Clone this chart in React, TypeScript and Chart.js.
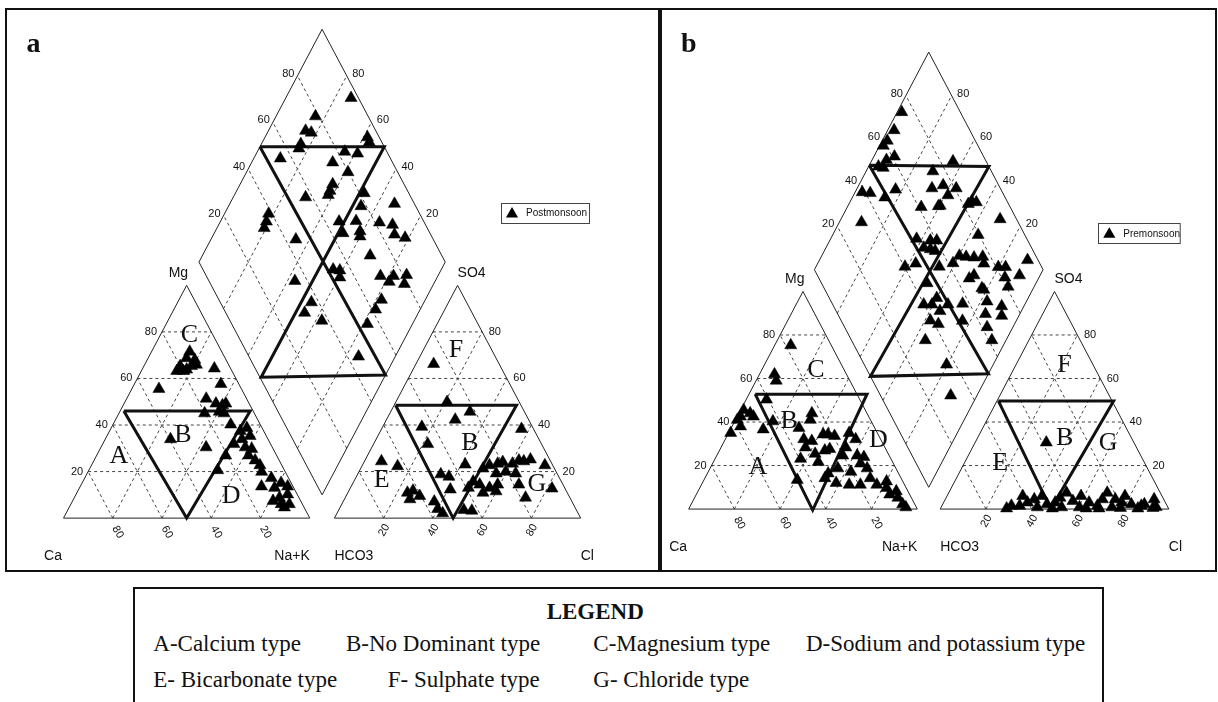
import React, { useEffect, useRef } from "react";
import { Chart, registerables } from "chart.js";

Chart.register(...registerables);

// ---------------- shared labels ----------------
const tickValues = [20, 40, 60, 80];
const cationNames = ["Ca", "Mg", "Na+K"]; // left, top, right
const anionNames = ["HCO3", "SO4", "Cl"]; // left, top, right
const zoneLetters = ["A", "B", "C", "D", "F", "B", "E", "G"];
const legendTitle = "LEGEND";
const legendRow1 = ["A-Calcium type", "B-No Dominant type", "C-Magnesium type", "D-Sodium and potassium type"];
const legendRow2 = ["E- Bicarbonate type", "F- Sulphate type", "G- Chloride type"];

// ---------------- panel a : Postmonsoon ----------------
// cation triangle (% Na+K, % Mg; Ca is the rest)
const postCationNaK = [15.5, 15.6, 19.3, 14.7, 14.4, 17.1, 19.3, 21, 18.1, 29.1, 35.1, 11, 32.3, 37.3, 40.3, 41.3, 34.8, 40.4, 42.7, 47.8, 26.5, 42.7, 53.1, 55.1, 55.5, 58.1, 53.3, 58.6, 52.4, 61.6, 61.7, 65.4, 68.4, 52.3, 70.5, 75.8, 73.6, 79.2, 80.8, 84.2, 81.4, 83.3, 85.9, 85.4, 88.7, 87.4];
const postCationMg = [71.5, 68.7, 68, 65.3, 63.2, 63.2, 65.3, 65.9, 63.8, 64.3, 57.6, 55.5, 51.3, 49.2, 48.5, 49.2, 45, 45.7, 45, 40.2, 33.9, 30.4, 37.4, 38.7, 33.9, 35.3, 31.8, 30.4, 26.9, 29.7, 26.9, 24.8, 22.7, 20.6, 19.9, 17.2, 13.6, 13, 15.1, 13.6, 7.4, 8.8, 10.2, 6, 6, 4.6];
// anion triangle (% Cl, % SO4; HCO3 is the rest)
const postAnionCl = [7.2, 20.8, 32.2, 27.9, 15.9, 56.8, 22, 41.6, 6.9, 14.5, 33.8, 37.6, 40.9, 24.2, 26, 29.9, 26.6, 37, 40, 42.9, 50.8, 54.2, 49.7, 51.6, 54.6, 56.3, 60.6, 62.5, 64.7, 67, 74.1, 56.1, 59.6, 64, 48.5, 51.8, 56.5, 59.1, 59.9, 54.9, 67.7, 73.2, 82, 47.9];
const postAnionSO4 = [66.2, 49.9, 45.7, 42.3, 39.2, 38.3, 31.8, 23, 24.4, 22.3, 18.8, 17.8, 12.3, 10.9, 11.8, 9.5, 8.1, 7.1, 3.9, 2.1, 3.5, 3.2, 21.3, 22.7, 23.4, 24.1, 23.4, 24.8, 24.4, 25.2, 22.7, 19.2, 19.9, 19.2, 15.7, 14.4, 13, 14.4, 11.5, 10.9, 14.4, 8.8, 12.7, 13];
// diamond (% SO4+Cl, % Ca+Mg)
const postDiamondSO4Cl = [97, 78.6, 71.5, 73.4, 66.7, 65, 95.2, 94.9, 82.9, 87.7, 55.3, 75.7, 79.8, 71, 68.5, 66.9, 57.2, 81.9, 91.9, 77.8, 38.7, 36.1, 33.8, 65.6, 72.6, 81.8, 86.6, 64.7, 72, 70.9, 85.3, 88.9, 44.2, 70.9, 52.9, 55.4, 53.9, 70.7, 76, 73, 81.5, 78.7, 34.9, 66, 61.5, 37, 32, 37.3, 55.1, 44.5];
const postDiamondCaMg = [73.5, 84, 84.9, 82.2, 84, 83.8, 58.4, 56.6, 64.5, 58.9, 89.2, 67.1, 58.8, 62.4, 62.1, 61.9, 70.6, 47.7, 33.1, 46.2, 82.1, 81.3, 80.8, 51.8, 45, 35.2, 29.4, 47.7, 41.2, 40.1, 26.5, 21.5, 65.5, 31.9, 43.9, 41, 39.5, 23.3, 18, 18.5, 12.9, 11.9, 57, 17.8, 18.1, 45.7, 46.2, 37.5, 18.3, 14.9];
// hand drawn zone outlines
const postCationZone = [[1.5, 46], [52.8, 46], [50, 0], [1.5, 46]];
const postAnionZone = [[0.6, 48.5], [49.7, 48.5], [48.2, 0], [0.6, 48.5]];
const postDiamondZone = [[49.5, 100], [100, 49.5], [0.5, 50], [51.5, 0], [49.5, 100]];

// ---------------- panel b : Premonsoon ----------------
const preCationNaK = [7, 6.6, 8.8, 8.9, 1.3, 4.9, 1.4, 0.8, 7.1, 3.7, 0.9, 14.3, 16.7, 31.9, 32.7, 29.6, 34.3, 38.2, 36.9, 42.6, 46.1, 47.9, 43.8, 47, 52.7, 57, 54.6, 37.4, 55.1, 61.4, 64.7, 64.7, 55.9, 62.4, 68.7, 52.8, 72.3, 52.5, 40.8, 58.5, 64.6, 69.5, 76.7, 81.7, 84.6, 88.9, 92.5, 94.6, 80.2, 86.7, 45.9, 41.7];
const preCationMg = [75.3, 61.9, 59, 50.3, 45.5, 44, 42.5, 41, 42.5, 38, 35, 36.6, 40.3, 44, 41, 37.3, 32.1, 31.3, 28.3, 25.4, 26.9, 27.6, 34.3, 33.6, 35, 32.1, 28.3, 23.1, 24.6, 24.6, 23.9, 20.9, 18.7, 17.1, 18.7, 16.4, 14.2, 14.2, 13.4, 12, 11.2, 11.2, 11.2, 9.7, 6.7, 5.2, 2.2, 0.8, 12.7, 8.2, 21.6, 34.3];
const preAnionCl = [31.1, 30.4, 33.1, 36.7, 38.9, 41.6, 45.6, 48.8, 51.5, 56.2, 58.6, 63.6, 68, 69.3, 74.3, 77.8, 82.5, 87.2, 91.3, 92.8, 34, 42.1, 52.7, 60.5, 69.3, 74.7, 86.3, 88.2, 49.8, 68.7, 77.9, 28.9, 48.9, 63.7, 78.6, 94];
const preAnionSO4 = [30.6, 1.5, 6, 3, 4.5, 6, 2.2, 3, 7.5, 3.7, 6, 3, 1.5, 7.5, 4.5, 6, 2.2, 1.5, 4.5, 0.5, 1.5, 0.8, 0.8, 0.8, 0.3, 0.8, 0.3, 2.2, 5.2, 4.5, 3, 0.3, 0.3, 0.3, 0.5, 0.9];
const preDiamondSO4Cl = [74.4, 66.9, 61.5, 58.6, 61, 56.7, 51.7, 53.5, 85.5, 74.4, 38.7, 42, 47.4, 53.9, 70.1, 75.7, 80.7, 75.5, 84.5, 86.3, 61.1, 68.8, 92.8, 31.5, 79.6, 51.8, 57.4, 60.2, 52.9, 55.4, 57.1, 66.6, 69.3, 72.6, 76.6, 75.5, 62.1, 40.3, 45.7, 55.3, 81, 84.2, 95.4, 88.4, 81.5, 65.7, 68.5, 80.8, 46.2, 69.5, 47, 39.8, 43.4, 50.4, 57, 68.2, 73.5, 45.4, 64.6, 39, 41.7, 32.3, 36, 30.7, 62.3, 61.4, 53, 71.3, 69.7, 82.4, 69];
const preDiamondCaMg = [98, 97.2, 97.8, 98.4, 91, 93.7, 95.7, 93.3, 64.3, 70.8, 96.9, 93.2, 85.8, 82.9, 67.3, 63.1, 56.7, 58.7, 46.9, 44.7, 67.7, 60.4, 30.4, 90.3, 36.4, 62.4, 56, 53.2, 57.2, 54, 51.5, 39.8, 36.6, 33, 29.4, 27.3, 40.9, 61.1, 57.1, 46.1, 20.2, 17, 9, 9, 14.9, 30.3, 28.9, 11.4, 47.6, 21.3, 40, 44.2, 40.6, 33.6, 27.4, 17.2, 9.7, 35.6, 15, 37.6, 33.3, 35.3, 20.4, 11.5, 11.3, 6.2, 23.5, 7.5, 59.7, 47.8, 22.5];
const preCationZone = [[2.7, 52.8], [51.6, 52.8], [54.5, -0.5], [2.7, 52.8]];
const preAnionZone = [[0.6, 49.7], [51, 49.7], [48.4, 0], [0.6, 49.7]];
const preDiamondZone = [[48, 100], [100, 47.4], [0, 51], [52.2, 0], [48, 100]];

// ---------------- Piper geometry (equilateral units, triangle side 100) ----------------
const SQ = Math.sqrt(3) / 2;
const GAP = 10;
const cationXY = (nak: number, mg: number) => ({ x: nak + mg / 2, y: mg * SQ });
const anionXY = (cl: number, so4: number) => ({ x: 100 + GAP + cl + so4 / 2, y: so4 * SQ });
const diamondXY = (s: number, c: number) => ({ x: 100 + GAP / 2 + (s - c) / 2, y: GAP * SQ + (s + c) * SQ });

type P = { x: number; y: number | null };
const BREAK: P = { x: 0, y: null };

function outlinePoints(): P[] {
  const out: P[] = [];
  out.push(cationXY(0, 0), cationXY(100, 0), cationXY(0, 100), cationXY(0, 0), BREAK);
  out.push(anionXY(0, 0), anionXY(100, 0), anionXY(0, 100), anionXY(0, 0), BREAK);
  out.push(diamondXY(0, 0), diamondXY(100, 0), diamondXY(100, 100), diamondXY(0, 100), diamondXY(0, 0), BREAK);
  return out;
}

function gridPoints(): P[] {
  const out: P[] = [];
  for (const k of tickValues) {
    out.push(cationXY(0, k), cationXY(100 - k, k), BREAK);
    out.push(cationXY(k, 0), cationXY(k, 100 - k), BREAK);
    out.push(cationXY(100 - k, 0), cationXY(0, 100 - k), BREAK);
    out.push(anionXY(0, k), anionXY(100 - k, k), BREAK);
    out.push(anionXY(k, 0), anionXY(k, 100 - k), BREAK);
    out.push(anionXY(100 - k, 0), anionXY(0, 100 - k), BREAK);
    out.push(diamondXY(k, 0), diamondXY(k, 100), BREAK);
    out.push(diamondXY(0, k), diamondXY(100, k), BREAK);
  }
  return out;
}

function zonePoints(cz: number[][], az: number[][], dz: number[][]): P[] {
  const out: P[] = [];
  cz.forEach((p) => out.push(cationXY(p[0], p[1])));
  out.push(BREAK);
  az.forEach((p) => out.push(anionXY(p[0], p[1])));
  out.push(BREAK);
  dz.forEach((p) => out.push(diamondXY(p[0], p[1])));
  return out;
}

function zip(a: number[], b: number[], f: (p: number, q: number) => P): P[] {
  const n = Math.min(a.length, b.length);
  const out: P[] = [];
  for (let i = 0; i < n; i++) out.push(f(a[i], b[i]));
  return out;
}

type PanelCfg = {
  letter: string;
  legendLabel: string;
  canvasLeft: number;
  canvasWidth: number;
  canvasHeight: number;
  xMin: number;
  xMax: number;
  yMin: number;
  yMax: number;
  letterPos: [number, number];
  legendBox: [number, number, number, number];
  zoneLabelPos: number[][];
  cat: [number[], number[]];
  ani: [number[], number[]];
  dia: [number[], number[]];
  zones: [number[][], number[][], number[][]];
};

const panelA: PanelCfg = {
  letter: "a",
  legendLabel: "Postmonsoon",
  canvasLeft: 0,
  canvasWidth: 661,
  canvasHeight: 575,
  xMin: -22.738,
  xMax: -22.738 + 661 / 2.52,
  yMin: 524.3 / 2.76 - 575 / 2.76,
  yMax: 524.3 / 2.76,
  letterPos: [26.5, 51.7],
  legendBox: [501, 203, 88, 20],
  zoneLabelPos: [[22.5, 23.7], [48.5, 31.6], [51.1, 68.9], [68.1, 8.8], [159.4, 63.2], [165, 28.7], [129.2, 14.6], [192.2, 13.3]],
  cat: [postCationNaK, postCationMg],
  ani: [postAnionCl, postAnionSO4],
  dia: [postDiamondSO4Cl, postDiamondCaMg],
  zones: [postCationZone, postAnionZone, postDiamondZone],
};

const panelB: PanelCfg = {
  letter: "b",
  legendLabel: "Premonsoon",
  canvasLeft: 661,
  canvasWidth: 557,
  canvasHeight: 575,
  xMin: -20.7 / 2.35,
  xMax: -20.7 / 2.35 + 557 / 2.35,
  yMin: 515 / 2.58 - 575 / 2.58,
  yMax: 515 / 2.58,
  letterPos: [20, 51.7],
  legendBox: [437.3, 223.3, 81.7, 20],
  zoneLabelPos: [[30.3, 17.2], [44, 35.7], [55.7, 55.8], [83, 28.1], [164.4, 58.1], [164.4, 29.1], [136.2, 19], [183.4, 27.1]],
  cat: [preCationNaK, preCationMg],
  ani: [preAnionCl, preAnionSO4],
  dia: [preDiamondSO4Cl, preDiamondCaMg],
  zones: [preCationZone, preAnionZone, preDiamondZone],
};

const SANS = '"Liberation Sans", Arial, sans-serif';
const NARROW = '"Liberation Sans Narrow", "Liberation Sans", Arial, sans-serif';
const SERIF = '"Liberation Serif", "Times New Roman", serif';

function triangleMarker(ctx: CanvasRenderingContext2D, x: number, y: number, r: number) {
  ctx.beginPath();
  ctx.moveTo(x, y - r);
  ctx.lineTo(x + r * SQ, y + r / 2);
  ctx.lineTo(x - r * SQ, y + r / 2);
  ctx.closePath();
  ctx.fill();
}

function makeTextPlugin(cfg: PanelCfg) {
  return {
    id: "piperText" + cfg.letter,
    afterDatasetsDraw(chart: any) {
      const ctx: CanvasRenderingContext2D = chart.ctx;
      const sx = chart.scales.x;
      const sy = chart.scales.y;
      const px = (p: { x: number; y: number }) => [sx.getPixelForValue(p.x), sy.getPixelForValue(p.y)];
      ctx.save();
      ctx.fillStyle = "#111";

      // panel letter
      ctx.font = "bold 28px " + SERIF;
      ctx.textAlign = "left";
      ctx.textBaseline = "alphabetic";
      ctx.fillText(cfg.letter, cfg.letterPos[0], cfg.letterPos[1]);

      // apex / corner names
      ctx.font = "14px " + SANS;
      const [cTopX, cTopY] = px(cationXY(0, 100));
      const [aTopX, aTopY] = px(anionXY(0, 100));
      const [cLX, baseY] = px(cationXY(0, 0));
      const [cRX] = px(cationXY(100, 0));
      const [aLX] = px(anionXY(0, 0));
      const [aRX] = px(anionXY(100, 0));
      ctx.textAlign = "right";
      ctx.fillText(cationNames[1], cTopX + 1.5, cTopY - 8.5);
      ctx.fillText(cationNames[0], cLX - 1.5, baseY + 42);
      ctx.fillText(cationNames[2], cRX, baseY + 42);
      ctx.textAlign = "left";
      ctx.fillText(anionNames[1], aTopX, aTopY - 8.5);
      ctx.fillText(anionNames[0], aLX, baseY + 42);
      ctx.fillText(anionNames[2], aRX, baseY + 42);

      // tick labels
      ctx.font = "11px " + NARROW;
      for (const k of tickValues) {
        const t = String(k);
        ctx.textBaseline = "middle";
        let [x, y] = px(cationXY(0, k));
        ctx.textAlign = "right";
        ctx.fillText(t, x - 5, y);
        [x, y] = px(anionXY(100 - k, k));
        ctx.textAlign = "left";
        ctx.fillText(t, x + 6.5, y);
        [x, y] = px(diamondXY(k, 100));
        ctx.textAlign = "right";
        ctx.fillText(t, x - 3, y - 2);
        [x, y] = px(diamondXY(100, k));
        ctx.textAlign = "left";
        ctx.fillText(t, x + 5.5, y - 2);
        // rotated base labels
        ctx.textAlign = "center";
        [x, y] = px(cationXY(100 - k, 0));
        ctx.save();
        ctx.translate(x + 5, y + 14);
        ctx.rotate(Math.PI / 3);
        ctx.fillText(t, 0, 0);
        ctx.restore();
        [x, y] = px(anionXY(k, 0));
        ctx.save();
        ctx.translate(x + 0.5, y + 12);
        ctx.rotate(-Math.PI / 3);
        ctx.fillText(t, 0, 0);
        ctx.restore();
      }

      // hydrochemical zone letters
      ctx.font = "26px " + SERIF;
      ctx.textAlign = "center";
      ctx.textBaseline = "alphabetic";
      cfg.zoneLabelPos.forEach((p, i) => {
        const [x, y] = px({ x: p[0], y: p[1] });
        ctx.fillText(zoneLetters[i], x, y + 8.6);
      });

      // in-panel legend
      const [bx, by, bw, bh] = cfg.legendBox;
      ctx.strokeStyle = "#444";
      ctx.lineWidth = 1;
      ctx.strokeRect(Math.round(bx) + 0.5, Math.round(by) + 0.5, bw, bh);
      ctx.fillStyle = "#000";
      triangleMarker(ctx, bx + 11, by + bh / 2 + 1, 7);
      ctx.fillStyle = "#111";
      ctx.font = "10px " + SANS;
      ctx.textAlign = "left";
      ctx.textBaseline = "middle";
      ctx.fillText(cfg.legendLabel, bx + 25, by + bh / 2 + 0.5);
      ctx.restore();
    },
  };
}

function PiperPanel({ cfg }: { cfg: PanelCfg }) {
  const ref = useRef<HTMLCanvasElement>(null);
  useEffect(() => {
    const pointStyle = {
      showLine: false,
      pointStyle: "triangle" as const,
      pointRadius: 7,
      pointHoverRadius: 7,
      pointBackgroundColor: "#000",
      pointBorderColor: "#000",
      pointBorderWidth: 0.5,
      backgroundColor: "#000",
      borderColor: "#000",
    };
    const lineStyle = { showLine: true, pointRadius: 0, pointHoverRadius: 0, fill: false, spanGaps: false, tension: 0 };
    const chart = new Chart(ref.current as HTMLCanvasElement, {
      type: "scatter",
      data: {
        datasets: [
          { label: cfg.legendLabel + " diamond", data: zip(cfg.dia[0], cfg.dia[1], diamondXY) as any, ...pointStyle },
          { label: cfg.legendLabel + " cations", data: zip(cfg.cat[0], cfg.cat[1], cationXY) as any, ...pointStyle },
          { label: cfg.legendLabel + " anions", data: zip(cfg.ani[0], cfg.ani[1], anionXY) as any, ...pointStyle },
          { label: "zones", data: zonePoints(cfg.zones[0], cfg.zones[1], cfg.zones[2]) as any, ...lineStyle, borderColor: "#111", borderWidth: 3 },
          { label: "outline", data: outlinePoints() as any, ...lineStyle, borderColor: "#222", borderWidth: 1 },
          { label: "grid", data: gridPoints() as any, ...lineStyle, borderColor: "#444", borderWidth: 1, borderDash: [3, 3] },
        ] as any,
      },
      options: {
        responsive: false,
        animation: false,
        events: [],
        layout: { padding: 0 },
        plugins: { legend: { display: false }, tooltip: { enabled: false }, title: { display: false } },
        scales: {
          x: { type: "linear", min: cfg.xMin, max: cfg.xMax, display: false },
          y: { type: "linear", min: cfg.yMin, max: cfg.yMax, display: false },
        },
      },
      plugins: [makeTextPlugin(cfg)],
    });
    return () => chart.destroy();
  }, [cfg]);
  return (
    <canvas
      ref={ref}
      width={cfg.canvasWidth}
      height={cfg.canvasHeight}
      style={{ position: "absolute", left: cfg.canvasLeft, top: 0, width: cfg.canvasWidth, height: cfg.canvasHeight }}
    />
  );
}

const LEGEND_FONT = 23;
const legendRow1X = [153.3, 346, 593.3, 806];
const legendRow2X = [153.3, 387.7, 593.3];

export default function App() {
  const txt = (s: string, left: number, baseline: number, bold = false) => (
    <span
      key={s}
      style={{
        position: "absolute",
        left,
        top: baseline - 0.8375 * LEGEND_FONT,
        font: (bold ? "bold " : "") + LEGEND_FONT + "px " + SERIF,
        lineHeight: 1,
        whiteSpace: "nowrap",
        color: "#111",
      }}
    >
      {s}
    </span>
  );
  return (
    <div style={{ position: "absolute", left: 0, top: 0, width: 1218, height: 702, overflow: "hidden", background: "#fff" }}>
      <PiperPanel cfg={panelA} />
      <PiperPanel cfg={panelB} />
      <div style={{ position: "absolute", left: 5, top: 8, width: 655, height: 564, border: "2px solid #111", boxSizing: "border-box" }} />
      <div style={{ position: "absolute", left: 660, top: 8, width: 557, height: 564, border: "2px solid #111", boxSizing: "border-box" }} />
      <div style={{ position: "absolute", left: 133, top: 587, width: 971, height: 200, border: "2px solid #111", boxSizing: "border-box" }} />
      {txt(legendTitle, 546.7, 619.3, true)}
      {legendRow1.map((s, i) => txt(s, legendRow1X[i], 651))}
      {legendRow2.map((s, i) => txt(s, legendRow2X[i], 687.7))}
    </div>
  );
}
